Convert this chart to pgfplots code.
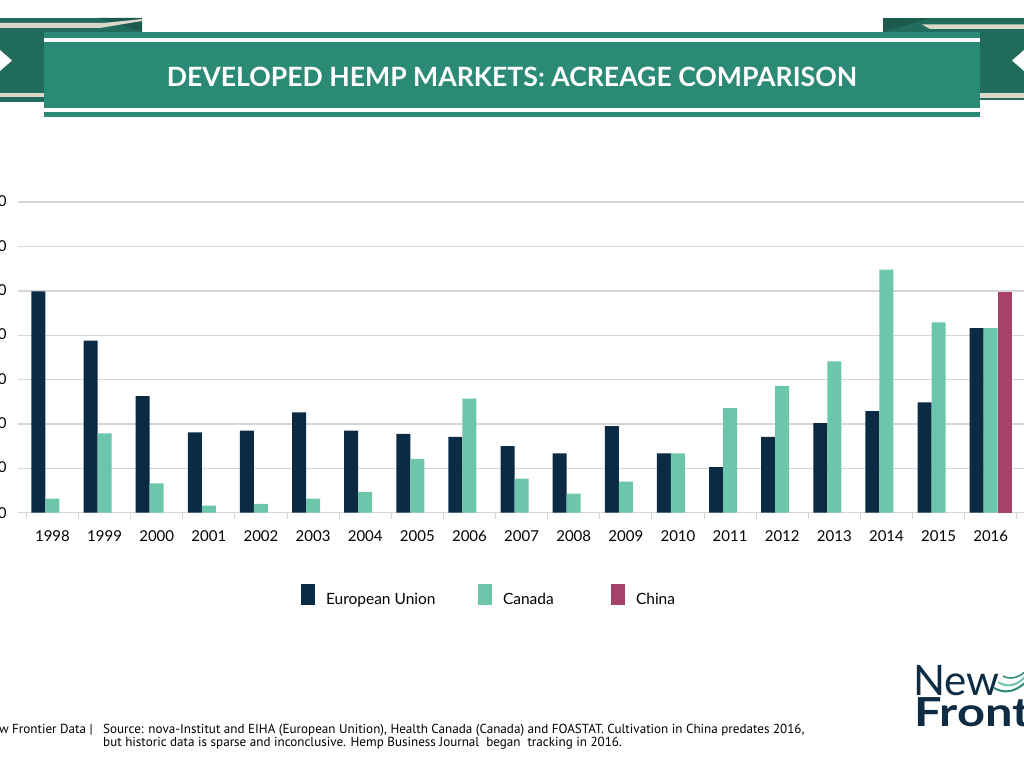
\documentclass[border=0pt]{standalone}
\usepackage{fontspec}
\setmainfont{Lato}
\newfontfamily\ptsans{PT Sans}
\usepackage{graphicx}
\usepackage{pgfplots}
\pgfplotsset{compat=1.18}

\definecolor{eu}{HTML}{0B2B45}
\definecolor{canada}{HTML}{6CC6AB}
\definecolor{china}{HTML}{A8416A}
\definecolor{band}{HTML}{2B8A76}
\definecolor{ribbon}{HTML}{226C5D}
\definecolor{fold}{HTML}{1B5A4D}
\definecolor{beige}{HTML}{D9D6CA}
\definecolor{gridgray}{HTML}{D6D6D6}
\definecolor{navy}{HTML}{0E2C44}

\begin{document}
\begin{tikzpicture}[x=1pt,y=1pt]
% ---- banner (pixel y flipped: 768 - y)
\fill[ribbon] (0,666) rectangle (142,750);
\fill[fold] (98,750) -- (142,750) -- (142,736) -- cycle;
\fill[beige] (0,745) -- (104,745) -- (142,749) -- (142,747) -- (100,740) -- (0,740) -- cycle;
\fill[beige] (0,671.3) rectangle (44,675.3);
\fill[white] (0,718) -- (12,707.5) -- (0,697) -- cycle;
\fill[ribbon] (883,667.5) rectangle (1024,749.7);
\fill[fold] (883,749.7) -- (930,749.7) -- (883,736) -- cycle;
\fill[beige] (922,743.5) -- (1024,743.5) -- (1024,739) -- (930,739) -- cycle;
\fill[beige] (980,670) rectangle (1024,675);
\fill[white] (1024,718) -- (1012,707.5) -- (1024,697) -- cycle;
\fill[band] (44,650.7) rectangle (980,735.7);
\fill[white] (44,725.7) rectangle (980,729.7);
\fill[white] (44,656.3) rectangle (980,659.7);
\node[text=white, font=\fontsize{26.6}{30}\selectfont\bfseries, inner sep=0pt]
  at (512,691) {DEVELOPED HEMP MARKETS: ACREAGE COMPARISON};

% ---- chart
\coordinate (axpos) at (18.3,255.3);
\begin{axis}[
  at={(axpos)}, anchor=south west,
  scale only axis, width=1011.5pt, height=310.4pt,
  ybar=0pt, bar width=14pt,
  xmin=-0.656, xmax=18.75, ymin=0, ymax=140000,
  axis x line*=bottom, axis y line*=left,
  x axis line style={gridgray, line width=1.6pt},
  y axis line style={draw=none},
  xtick={0,...,18},
  xticklabels={1998,1999,2000,2001,2002,2003,2004,2005,2006,2007,2008,2009,2010,2011,2012,2013,2014,2015,2016},
  minor xtick={-0.5,0.5,...,18.5},
  xtick align=outside,
  major tick length=0pt, minor tick length=6pt,
  major x tick style={draw=none},
  minor x tick style={gridgray, line width=1pt},
  ytick={0,20000,40000,60000,80000,100000,120000,140000},
  yticklabels={0,{20,000},{40,000},{60,000},{80,000},{100,000},{120,000},{140,000}},
  ytick style={draw=none},
  scaled y ticks=false,
  ymajorgrids, grid style={gridgray, line width=1.6pt},
  xticklabel style={font=\fontsize{15}{15}\selectfont, inner sep=0pt, yshift=-18pt},
  yticklabel style={font=\fontsize{15}{15}\selectfont, inner sep=0pt, xshift=-11.5pt},
  legend columns=-1,
  legend style={draw=none, fill=none, at={(0.4644,-0.2651)}, anchor=center,
    column sep=11pt, nodes={inner sep=0pt, font=\fontsize{15.5}{16}\selectfont}},
  legend image code/.code={\fill[#1, draw=none] (0pt,-6pt) rectangle (14pt,15pt);},
]
\addplot[fill=eu, draw=none] coordinates {
 (0,99800) (1,77600) (2,52600) (3,36200) (4,37000) (5,45200) (6,37000)
 (7,35600) (8,34200) (9,30000) (10,26800) (11,39000) (12,26800) (13,20600)
 (14,34200) (15,40400) (16,45800) (17,49800) (18,83200)};
\addplot[fill=canada, draw=none] coordinates {
 (0,6400) (1,35800) (2,13200) (3,3200) (4,4000) (5,6400) (6,9400)
 (7,24200) (8,51400) (9,15400) (10,8600) (11,14000) (12,26800) (13,47200)
 (14,57200) (15,68200) (16,109600) (17,85800) (18,83200)};
\addplot[fill=china, draw=none] coordinates {(18,99600)};
\addlegendentry{\makebox[141pt][l]{European Union}}
\addlegendentry{\makebox[97pt][l]{Canada}}
\addlegendentry{China}
\end{axis}

% ---- footer
\node[anchor=base east, inner sep=0pt, font=\ptsans\fontsize{13.1}{14}\selectfont] at (93,35) {New Frontier Data |};
\node[anchor=base west, inner sep=0pt, font=\ptsans\fontsize{13.1}{14}\selectfont] at (103,35)
  {Source: nova-Institut and EIHA (European Unition), Health Canada (Canada) and FOASTAT. Cultivation in China predates 2016,};
\node[anchor=base west, inner sep=0pt, font=\ptsans\fontsize{13.1}{14}\selectfont] at (103,21.5)
  {but historic data is sparse and inconclusive. Hemp Business Journal\ \ began\ \ tracking in 2016.};

% ---- logo
\node[anchor=base west, inner sep=0pt, text=navy, font=\fontsize{42}{42}\selectfont] at (913,73) {New};
\node[anchor=base west, inner sep=0pt, text=navy, font=\fontsize{40}{40}\selectfont\bfseries] at (914,41.3) {\scalebox{1.22}[1]{Frontier}};
\draw[band, line width=2pt] (994,80) .. controls (1005,74) and (1015,76) .. (1026,86);
\draw[canada, line width=2pt] (998,86) .. controls (1008,80) and (1016,82) .. (1026,92);
\draw[band, line width=1.5pt] (1003,92) .. controls (1010,88) and (1018,90) .. (1026,97);

\pgfresetboundingbox
\useasboundingbox (0,0) rectangle (1024,768);
\end{tikzpicture}
\end{document}
